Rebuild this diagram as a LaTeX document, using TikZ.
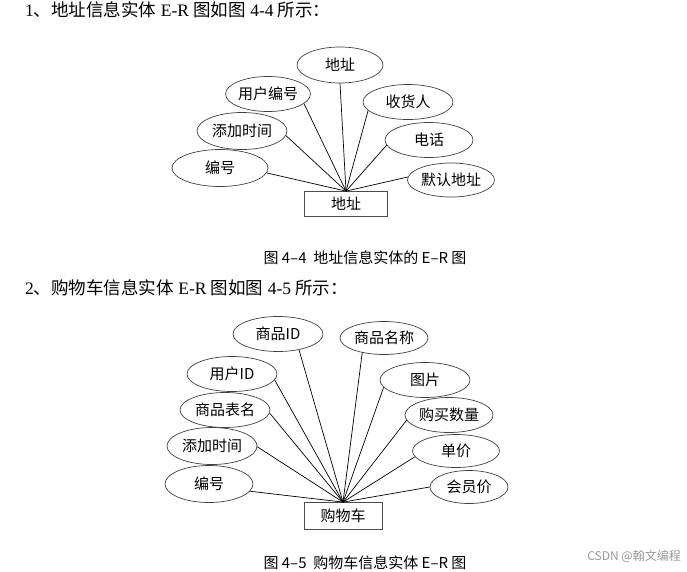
\documentclass[tikz,border=0pt]{standalone}
\usepackage{fontspec}
\setmainfont{Liberation Serif}
\newfontfamily\cjk{Noto Sans CJK SC}
\newfontfamily\cjkwide[LetterSpace=8]{Noto Sans CJK SC}
\usetikzlibrary{shapes.geometric}
\begin{document}
\begin{tikzpicture}[x=1pt,y=-1pt,
 attr/.style={ellipse,draw=black!75,line width=0.7pt,inner sep=0pt,minimum width=88pt,minimum height=35pt,font=\cjk\fontsize{15}{15}\selectfont},
 ent/.style={rectangle,draw=black!70,line width=0.8pt,minimum width=83pt,minimum height=25pt,inner sep=0pt,font=\cjk\fontsize{15}{15}\selectfont},
 link/.style={draw=black,line width=0.7pt},
 head/.style={anchor=west,inner sep=0pt,font=\fontsize{17.5}{17.5}\selectfont},
 figcaption/.style={inner sep=0pt,font=\cjk\fontsize{15}{15}\selectfont}]
\useasboundingbox (0,0) rectangle (687,571);

% headings
\node[head] (h1) at (25,10) {1{\cjk 、地址信息实体} E-R {\cjk 图如图} 4-4 {\cjk 所示：}};
\node[head] (h2) at (25,288) {2{\cjk 、购物车信息实体} E-R {\cjk 图如图} 4-5 {\cjk 所示：}};

% diagram 1
\node[ent] (r1) at (346,204) {地址};
\node[attr,minimum width=86pt,minimum height=36pt] (a1) at (340,65) {地址};
\node[attr,minimum width=77pt] (a2) at (268,94) {用户编号};
\node[attr,minimum width=90pt] (a3) at (408,102) {收货人};
\node[attr,minimum width=90pt,minimum height=37pt] (a4) at (242,131) {添加时间};
\node[attr] (a5) at (429,140) {电话};
\node[attr,minimum width=96pt,minimum height=37pt] (a6) at (220,168) {编号};
\node[attr,minimum width=87pt,minimum height=34pt] (a7) at (451,180) {默认地址};
\foreach \n/\a in {a1/south,a2/-15,a3/192,a4/-6,a5/187,a6/-6,a7/176}
  \draw[link] (r1.north) -- (\n.\a);

\node[figcaption] (c1) at (365,258) {图 4–4 \ 地址信息实体的 E–R 图};

% diagram 2
\node[ent,minimum width=78pt,minimum height=27pt] (r2) at (343,516) {购物车};
\node[attr,minimum width=90pt] (b1) at (278,334) {商品ID};
\node[attr,minimum width=88pt,minimum height=33pt] (b2) at (384,338) {商品名称};
\node[attr,minimum width=90pt] (b3) at (232,374) {用户ID};
\node[attr,minimum width=90pt] (b4) at (425,380) {图片};
\node[attr,minimum width=90pt] (b5) at (225,410) {商品表名};
\node[attr,minimum width=88pt] (b6) at (449,415) {购买数量};
\node[attr,minimum width=90pt,minimum height=37pt] (b7) at (212,446) {添加时间};
\node[attr,minimum width=87pt,minimum height=33pt] (b8) at (456,451) {单价};
\node[attr,minimum width=88pt,minimum height=37pt] (b9) at (209,484) {编号};
\node[attr,minimum width=78pt,minimum height=33pt] (b10) at (469,487) {会员价};
\foreach \n/\a in {b1/-37,b2/-146,b3/-8,b4/190,b5/-4,b6/187,b7/-1,b8/188,b9/-10,b10/180}
  \draw[link] (r2.north) -- (\n.\a);

\node[figcaption] (c2) at (365,563) {图 4–5 \ 购物车信息实体 E–R 图};
\node[anchor=east,inner sep=0pt,text=black!40,font=\cjk\fontsize{12}{12}\selectfont] (wm) at (681,556) {CSDN @翰文编程};
\end{tikzpicture}
\end{document}
